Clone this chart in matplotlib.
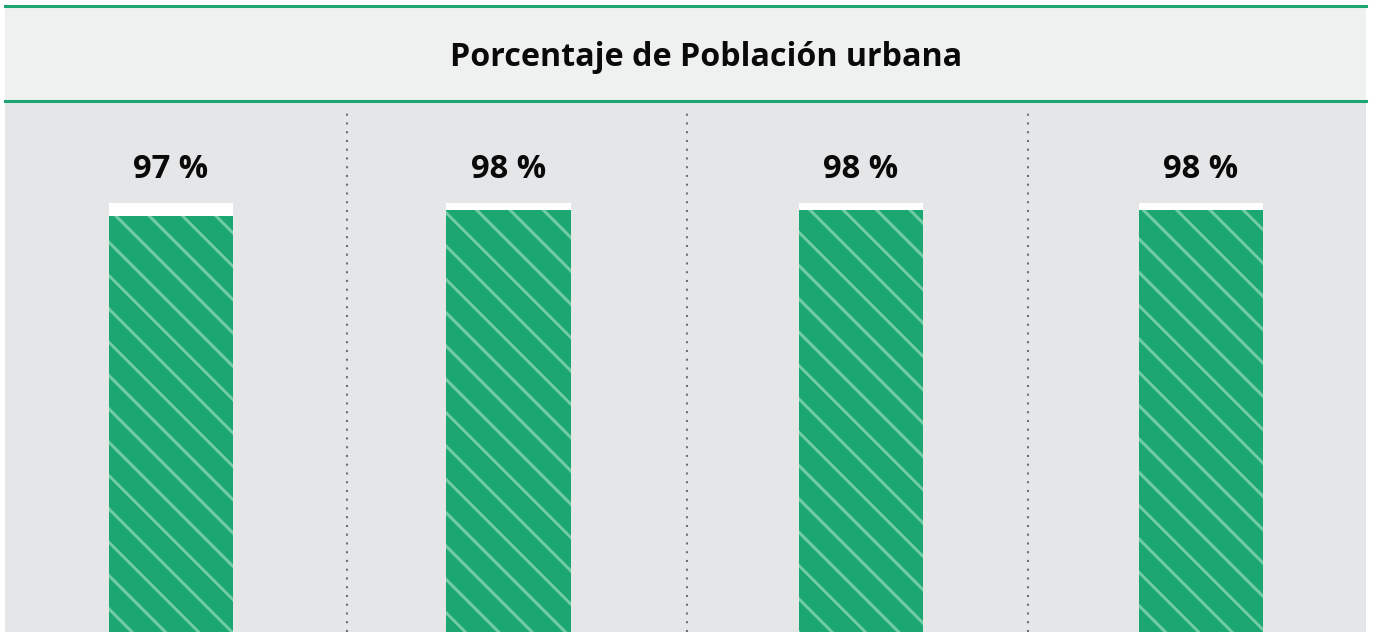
import numpy as np
import matplotlib.pyplot as plt
from matplotlib.patches import Rectangle

plt.rcParams['font.family'] = ['Open Sans', 'DejaVu Sans']
plt.rcParams['hatch.linewidth'] = 2.2

title = 'Porcentaje de Población urbana'
labels = ['97 %', '98 %', '98 %', '98 %']
values = [97.1, 98.4, 98.4, 98.4]

green = '#1ca772'
hatch_green = '#6fcca3'
panel = '#e5e6e8'
header = '#eff1f0'

W, H = 1376, 632
fig = plt.figure(figsize=(W / 100, H / 100), dpi=100, facecolor='white')

def fx(px):
    return px / W

def fy(py):
    return 1 - py / H

# lower panel with bars
ax = fig.add_axes([fx(5), 0, fx(1366) - fx(5), fy(102)])
ax.set_facecolor(panel)
# bars sit a little off the column centres in the original
x = np.arange(len(values)) + np.array([-0.013, -0.02, 0.015, 0.015])
bars = ax.bar(x, values, width=0.365, color=green, edgecolor=hatch_green,
              linewidth=0, hatch='\\', zorder=3)
for b in bars:
    if hasattr(b, 'set_hatch_linewidth'):
        b.set_hatch_linewidth(2.2)
ax.bar(x, [100 - v for v in values], bottom=values, width=0.365,
       color='white', linewidth=0, zorder=3)
for xi, lab in zip(x, labels):
    ax.annotate(lab, xy=(xi, 100), xytext=(0, 18), textcoords='offset points',
                ha='center', va='baseline', fontsize=23.5, fontweight='bold',
                color='#0a0a0a')
for sep in [0.505, 1.505, 2.508]:
    ax.axvline(sep, ymax=0.98, color='#707070', lw=1.5, ls=(0, (1, 3.2)),
               zorder=1)
ax.set_xlim(-0.5, 3.5)
ax.set_ylim(100 - (632 - 203) / 4.5, 100 + (203 - 102) / 4.5)
for s in ax.spines.values():
    s.set_visible(False)
ax.set_xticks([])
ax.set_yticks([])

# header band
fig.add_artist(Rectangle((fx(5), fy(101)), fx(1366) - fx(5), fy(6) - fy(101),
                         transform=fig.transFigure, facecolor=header,
                         edgecolor='none'))
for yl in [6, 101]:
    fig.add_artist(plt.Line2D([fx(5), fx(1366)], [fy(yl), fy(yl)],
                              transform=fig.transFigure, color=green, lw=2.2))
fig.text(fx(706), fy(66), title, ha='center', va='baseline', fontsize=23.2,
         fontweight='bold', color='#0a0a0a')

fig.savefig('out.png', dpi=100, facecolor='white')
